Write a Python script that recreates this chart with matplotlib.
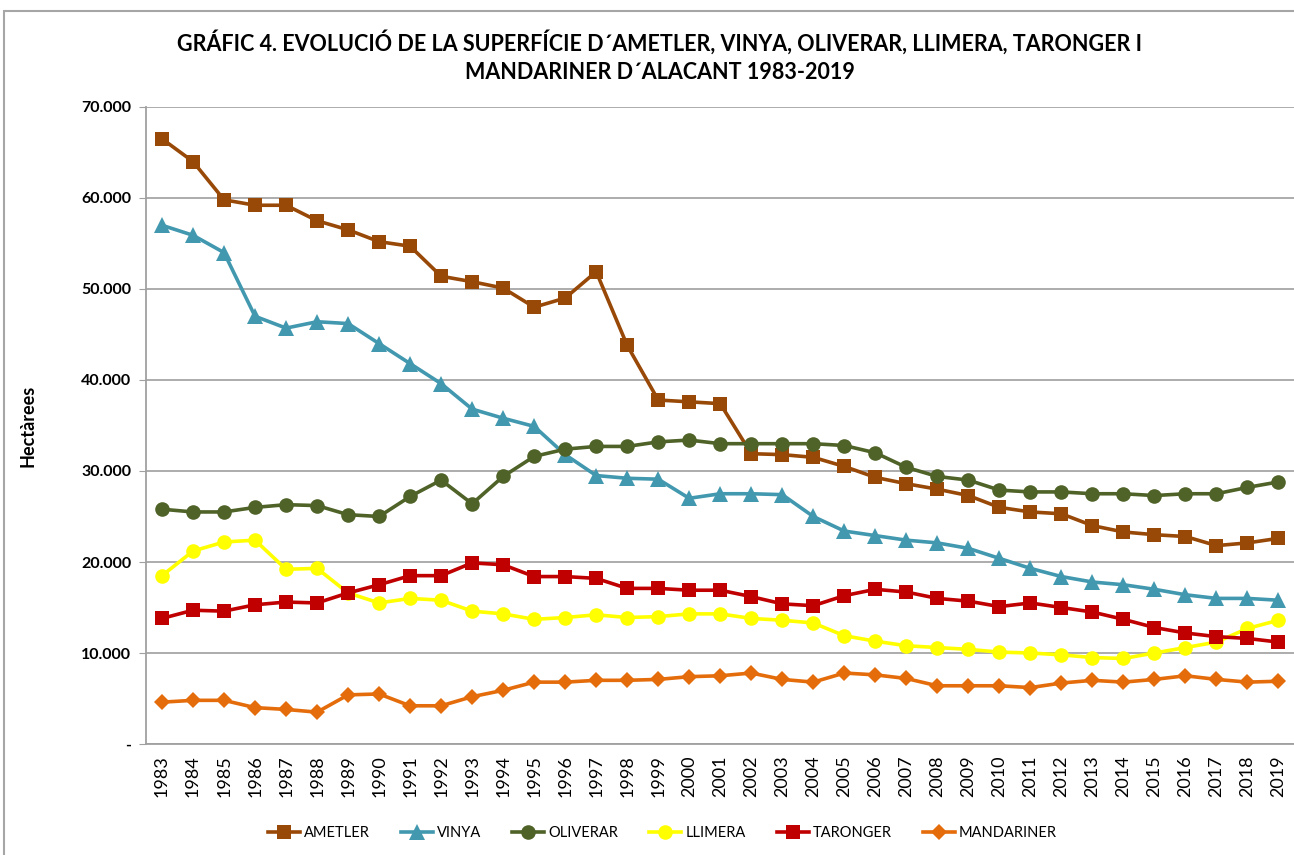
import matplotlib
matplotlib.use('Agg')
from matplotlib import pyplot as plt
from matplotlib.ticker import FuncFormatter
from matplotlib.patches import Rectangle

years = list(range(1983, 2020))

ametler = [66.5, 64.0, 59.8, 59.2, 59.2, 57.5, 56.5, 55.2, 54.7, 51.4,
           50.8, 50.1, 48.0, 49.0, 51.9, 43.8, 37.8, 37.6, 37.4, 31.9,
           31.8, 31.5, 30.5, 29.3, 28.6, 28.0, 27.3, 26.0, 25.5, 25.3,
           24.0, 23.3, 23.0, 22.8, 21.8, 22.1, 22.6]
vinya = [57.0, 55.9, 54.0, 47.0, 45.7, 46.4, 46.2, 44.0, 41.8, 39.6,
         36.8, 35.8, 34.9, 31.8, 29.5, 29.2, 29.1, 27.0, 27.5, 27.5,
         27.4, 25.0, 23.4, 22.9, 22.4, 22.1, 21.5, 20.4, 19.3, 18.4,
         17.8, 17.5, 17.0, 16.4, 16.0, 16.0, 15.8]
oliverar = [25.8, 25.5, 25.5, 26.0, 26.3, 26.2, 25.2, 25.0, 27.2, 29.0,
            26.4, 29.4, 31.6, 32.4, 32.7, 32.7, 33.2, 33.4, 33.0, 33.0,
            33.0, 33.0, 32.8, 32.0, 30.4, 29.4, 29.0, 27.9, 27.7, 27.7,
            27.5, 27.5, 27.3, 27.5, 27.5, 28.2, 28.8]
llimera = [18.5, 21.2, 22.2, 22.4, 19.2, 19.3, 16.6, 15.5, 16.0, 15.8,
           14.6, 14.3, 13.7, 13.9, 14.2, 13.9, 14.0, 14.3, 14.3, 13.8,
           13.6, 13.3, 11.9, 11.3, 10.8, 10.6, 10.4, 10.1, 10.0, 9.8,
           9.5, 9.4, 10.0, 10.6, 11.2, 12.7, 13.6]
taronger = [13.8, 14.7, 14.6, 15.3, 15.6, 15.5, 16.6, 17.5, 18.5, 18.5,
            19.9, 19.7, 18.4, 18.4, 18.2, 17.1, 17.1, 16.9, 16.9, 16.2,
            15.4, 15.2, 16.3, 17.0, 16.7, 16.0, 15.7, 15.1, 15.5, 15.0,
            14.5, 13.7, 12.8, 12.2, 11.8, 11.6, 11.2]
mandariner = [4.6, 4.8, 4.8, 4.0, 3.8, 3.5, 5.4, 5.5, 4.2, 4.2,
              5.2, 5.9, 6.8, 6.8, 7.0, 7.0, 7.1, 7.4, 7.5, 7.8,
              7.1, 6.8, 7.8, 7.6, 7.2, 6.4, 6.4, 6.4, 6.2, 6.7,
              7.0, 6.8, 7.1, 7.5, 7.1, 6.8, 6.9]

series = [
    ('AMETLER', ametler, '#984807', 's', 10.5),
    ('VINYA', vinya, '#4198AF', '^', 11),
    ('OLIVERAR', oliverar, '#4F6228', 'o', 10.5),
    ('LLIMERA', llimera, '#FFFF00', 'o', 10.5),
    ('TARONGER', taronger, '#C00000', 's', 10.5),
    ('MANDARINER', mandariner, '#E46C0A', 'D', 8),
]

plt.rcParams['font.family'] = ['Lato', 'DejaVu Sans']

fig = plt.figure(figsize=(12.94, 8.55), dpi=100)
ax = fig.add_axes([0.1132, 0.1298, 0.8868, 0.7451])

x = list(range(len(years)))
for name, vals, color, marker, ms in series:
    ax.plot(x, [v * 1000 for v in vals], color=color, lw=2.6, marker=marker,
            markersize=ms, markeredgewidth=0, label=name)

ax.set_xlim(-0.5, len(years) - 0.5)
ax.set_ylim(0, 70000)
ax.set_yticks(range(0, 70001, 10000))
ax.yaxis.set_major_formatter(FuncFormatter(
    lambda v, p: '-' if v == 0 else f'{int(v):,}'.replace(',', '.')))
ax.set_xticks(x)
ax.set_xticklabels([str(y) for y in years], rotation=90, fontsize=13)
ax.tick_params(axis='x', length=0, pad=8)
ax.tick_params(axis='y', length=5, color='#A0A0A0', pad=6)
for lab in ax.get_yticklabels():
    lab.set_fontweight('bold')
    lab.set_fontsize(11.5)

ax.grid(axis='y', color='#A6A6A6', lw=1.3)
ax.set_axisbelow(True)
for s in ['top', 'right']:
    ax.spines[s].set_visible(False)
for s in ['left', 'bottom']:
    ax.spines[s].set_color('#A0A0A0')
    ax.spines[s].set_linewidth(1.3)

ax.set_ylabel('Hectàrees', fontsize=13, fontweight='bold', labelpad=32)

fig.text(0.51, 0.950, 'GRÁFIC 4. EVOLUCIÓ DE LA SUPERFÍCIE D´AMETLER, VINYA, OLIVERAR, LLIMERA, TARONGER I',
         ha='center', va='center', fontsize=15.5, fontweight='bold')
fig.text(0.51, 0.915, 'MANDARINER D´ALACANT 1983-2019',
         ha='center', va='center', fontsize=15.5, fontweight='bold')

fig.legend(loc='center', bbox_to_anchor=(0.512, 0.026), ncol=6, frameon=False,
           fontsize=10.5, handlelength=2.2, columnspacing=2.1, handletextpad=0.3)

fig.patches.append(Rectangle((0.003, -0.1), 1.2, 1.087, transform=fig.transFigure,
                             fill=False, edgecolor='#A6A6A6', lw=1.5))

fig.savefig('out.png', dpi=100)
